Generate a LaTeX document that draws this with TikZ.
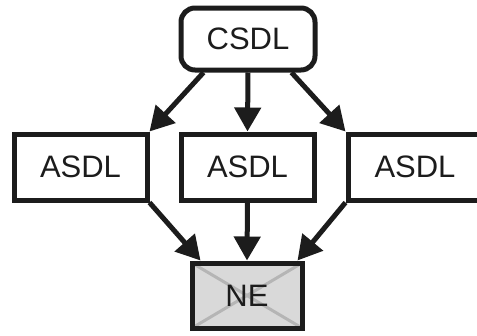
\documentclass[tikz,border=0pt]{standalone}
\usepackage{fontspec}
\setmainfont{Liberation Sans}
\usepackage{tikz}
\usetikzlibrary{positioning, arrows.meta}
\definecolor{ink}{HTML}{1C1C1C}
\definecolor{neFill}{HTML}{D9D9D9}
\definecolor{neCross}{HTML}{B5B5B5}
\tikzset{Block/.style={draw=ink, line width=5pt, rectangle, inner sep=0pt, align=center, text=ink, font=\fontsize{31pt}{36pt}\selectfont}}
\tikzset{Block Edge/.style={draw=ink, line width=5pt, -{Triangle[length=24pt, width=26pt]}}}
\tikzset{Round/.append style={rounded corners=14pt}}
\tikzset{Crossed/.append style={fill=neFill, path picture={
  \draw[neCross, line width=3pt] (path picture bounding box.north west) -- (path picture bounding box.south east);
  \draw[neCross, line width=3pt] (path picture bounding box.south west) -- (path picture bounding box.north east);}}}

\begin{document}
\begin{tikzpicture}[x=1pt, y=-1pt]
\useasboundingbox (0,0) rectangle (477,335);
\clip (0,0) rectangle (477,335);

\node[Block, Round, minimum width=134pt, minimum height=62pt] (csdl) at (248,39) {CSDL};
\node[Block, minimum width=133pt, minimum height=66pt] (asdlL) at (80.5,167) {ASDL};
\node[Block, minimum width=133pt, minimum height=66pt] (asdlM) at (247.5,167) {ASDL};
\node[Block, minimum width=134pt, minimum height=66pt] (asdlR) at (415,167) {ASDL};
\node[Block, Crossed, minimum width=110pt, minimum height=65pt] (ne) at (247,295.5) {NE};

\draw[Block Edge] ([xshift=25pt]csdl.south west) -- (asdlL.north east);
\draw[Block Edge] (csdl.south) -- (asdlM.north);
\draw[Block Edge] ([xshift=-26pt]csdl.south east) -- (asdlR.north west);
\draw[Block Edge] (asdlL.south east) -- ([xshift=11pt]ne.north west);
\draw[Block Edge] (asdlM.south) -- (ne.north);
\draw[Block Edge] (asdlR.south west) -- ([xshift=-7pt]ne.north east);
\end{tikzpicture}
\end{document}
